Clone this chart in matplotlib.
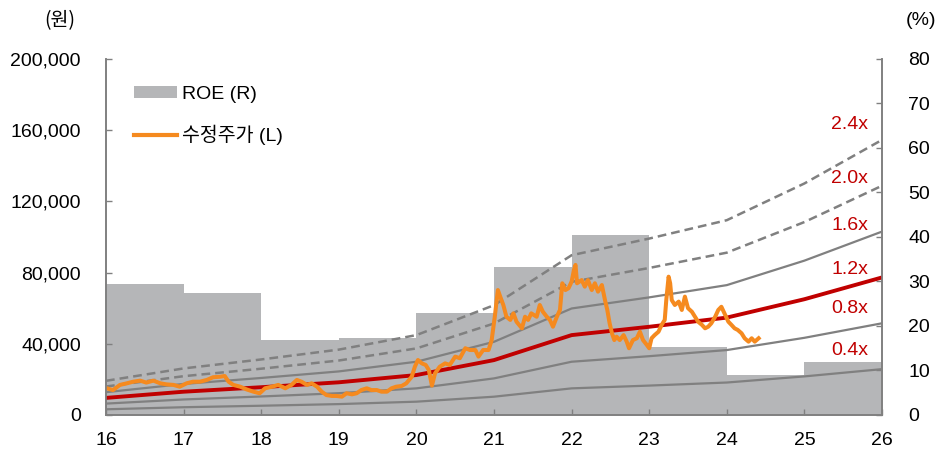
import numpy as np
import matplotlib
matplotlib.use("Agg")
import matplotlib.pyplot as plt
from matplotlib.patches import Patch
from matplotlib.lines import Line2D

plt.rcParams['font.family'] = ['Liberation Sans', 'Noto Sans CJK KR', 'DejaVu Sans']

# =============================================================================
# data
# =============================================================================
years = [16, 17, 18, 19, 20, 21, 22, 23, 24, 25, 26]
bps = [8.0, 10.9, 13.0, 15.3, 18.7, 25.7, 37.4, 41.3, 45.6, 54.2, 64.4]   # 천원
multiples = [0.4, 0.8, 1.2, 1.6, 2.0, 2.4]
band_labels = ['0.4x', '0.8x', '1.2x', '1.6x', '2.0x', '2.4x']
band_label_y = [36.5, 59.6, 82.0, 106.7, 133.0, 163.0]

roe_years = [16, 17, 18, 19, 20, 21, 22, 23, 24, 25]
roe = [29.4, 27.4, 16.9, 17.3, 22.9, 33.3, 40.4, 15.3, 9.0, 11.9]

price_t = [16.01, 16.09, 16.18, 16.27, 16.35, 16.44, 16.52, 16.61, 16.70, 16.78,
           16.87, 16.95, 17.04, 17.12, 17.21, 17.30, 17.38, 17.47, 17.53, 17.58,
           17.64, 17.73, 17.81, 17.90, 17.98, 18.05, 18.14, 18.22, 18.31, 18.39,
           18.46, 18.52, 18.59, 18.65, 18.72, 18.78, 18.84, 18.91, 18.97, 19.04,
           19.10, 19.17, 19.23, 19.29, 19.36, 19.42, 19.49, 19.55, 19.62, 19.68,
           19.74, 19.81, 19.87, 19.94, 19.98, 20.02, 20.07, 20.12, 20.16, 20.20,
           20.24, 20.30, 20.37, 20.43, 20.50, 20.56, 20.63, 20.69, 20.76, 20.80,
           20.86, 20.93, 20.97, 21.01, 21.05, 21.08, 21.12, 21.16, 21.21, 21.25,
           21.29, 21.36, 21.40, 21.44, 21.48, 21.55, 21.59, 21.63, 21.68, 21.72,
           21.76, 21.81, 21.85, 21.88, 21.92, 21.96, 22.00, 22.03, 22.05, 22.07,
           22.13, 22.17, 22.21, 22.26, 22.30, 22.34, 22.39, 22.43, 22.46, 22.49,
           22.52, 22.55, 22.58, 22.62, 22.67, 22.71, 22.74, 22.79, 22.84, 22.88,
           22.92, 22.97, 23.00, 23.03, 23.07, 23.12, 23.16, 23.20, 23.22, 23.25,
           23.27, 23.29, 23.33, 23.38, 23.42, 23.46, 23.50, 23.55, 23.59, 23.63,
           23.68, 23.72, 23.76, 23.80, 23.85, 23.89, 23.93, 23.97, 24.02, 24.06,
           24.10, 24.14, 24.19, 24.23, 24.28, 24.32, 24.36, 24.41]
price = [15.0, 14.0, 16.9, 17.8, 18.7, 19.3, 18.2, 19.3, 17.8, 17.2,
         16.9, 15.9, 17.8, 18.7, 18.7, 19.7, 21.2, 21.5, 21.9, 18.7,
         16.9, 15.9, 14.4, 13.1, 12.2, 15.0, 15.9, 16.9, 15.0, 16.9,
         19.7, 18.7, 16.9, 17.8, 15.9, 13.1, 11.2, 10.7, 10.7, 10.3,
         12.2, 11.6, 12.2, 14.0, 15.0, 14.0, 14.0, 13.1, 13.1, 15.0,
         15.9, 16.3, 17.8, 21.5, 27.1, 30.9, 29.0, 28.1, 25.3, 16.5,
         23.4, 27.1, 29.0, 28.1, 32.8, 31.9, 37.5, 36.5, 36.5, 32.8,
         36.5, 36.5, 42.1, 55.2, 70.2, 66.5, 61.8, 55.2, 53.4, 57.1,
         52.4, 48.7, 55.2, 53.4, 57.1, 55.2, 61.8, 58.0, 55.2, 53.4,
         49.6, 55.2, 59.0, 74.0, 70.2, 71.2, 74.9, 81.5, 84.3, 74.0,
         75.8, 72.1, 75.8, 70.2, 74.0, 69.3, 73.0, 64.6, 59.0, 51.5,
         45.9, 42.1, 44.0, 42.1, 44.9, 41.2, 37.5, 42.1, 43.1, 46.8,
         42.1, 39.3, 37.5, 43.1, 44.9, 46.8, 50.6, 53.4, 64.6, 77.7,
         74.0, 64.6, 61.8, 63.7, 59.0, 66.5, 60.0, 58.0, 55.2, 52.4,
         50.6, 48.7, 49.6, 51.5, 55.2, 59.0, 60.8, 57.1, 52.4, 50.6,
         48.7, 47.8, 45.9, 43.1, 41.2, 43.1, 41.2, 43.1]

# =============================================================================
# plot
# =============================================================================
fig = plt.figure(figsize=(9.48, 4.5), dpi=100)
ax = fig.add_axes([0.1118, 0.0778, 0.8186, 0.7911])
ax2 = ax.twinx()
ax.set_zorder(ax2.get_zorder() + 1)
ax.patch.set_visible(False)

bar_c = '#B5B6B8'
gray = '#808080'
red = '#C00000'
orange = '#F58A1F'

ax2.bar(roe_years, roe, width=1.0, align='edge', color=bar_c, linewidth=0)

bps = np.array(bps)
for m in multiples:
    vals = bps * m * 1000
    if m == 1.2:
        ax.plot(years, vals, color=red, lw=2.8, solid_capstyle='butt')
    elif m >= 2.0:
        ax.plot(years, vals, color=gray, lw=1.8, dashes=(3.5, 2))
    else:
        ax.plot(years, vals, color=gray, lw=1.6)

ax.plot(price_t, np.array(price) * 1000, color=orange, lw=2.9)

for lab, yv in zip(band_labels, band_label_y):
    ax.text(25.82, yv * 1000, lab, color=red, fontsize=14, ha='right', va='center')

ax.set_xlim(16, 26)
ax.set_ylim(0, 200000)
ax2.set_ylim(0, 80)
ax.set_xticks(range(16, 27))
ax.set_yticks(range(0, 200001, 40000))
ax.set_yticklabels([f'{v:,}' for v in range(0, 200001, 40000)])
ax2.set_yticks(range(0, 81, 10))

for a in (ax, ax2):
    for s in a.spines.values():
        s.set_color(gray)
        s.set_linewidth(1.2)
    a.spines['top'].set_visible(False)
    a.tick_params(direction='in', color=gray, length=4, labelsize=14, width=1)
ax.tick_params(axis='x', pad=12)
ax.tick_params(axis='y', pad=18)
ax2.tick_params(axis='y', pad=19)

fig.text(0.063, 0.955, '(원)', fontsize=14, ha='center', va='center',
         family=['Noto Sans CJK KR', 'DejaVu Sans'])
fig.text(0.971, 0.955, '(%)', fontsize=14, ha='center', va='center')

handles = [Patch(facecolor=bar_c, edgecolor='none'),
           Line2D([0], [0], color=orange, lw=3)]
leg = ax.legend(handles, ['ROE (R)', '수정주가 (L)'], loc='upper left',
                bbox_to_anchor=(0.0135, 0.974), frameon=False, fontsize=14,
                handlelength=2.2, handleheight=0.55, labelspacing=1.15,
                handletextpad=0.25)
for t in leg.get_texts():
    t.set_family(['Liberation Sans', 'Noto Sans CJK KR', 'DejaVu Sans'])

fig.savefig('out.png', dpi=100)
